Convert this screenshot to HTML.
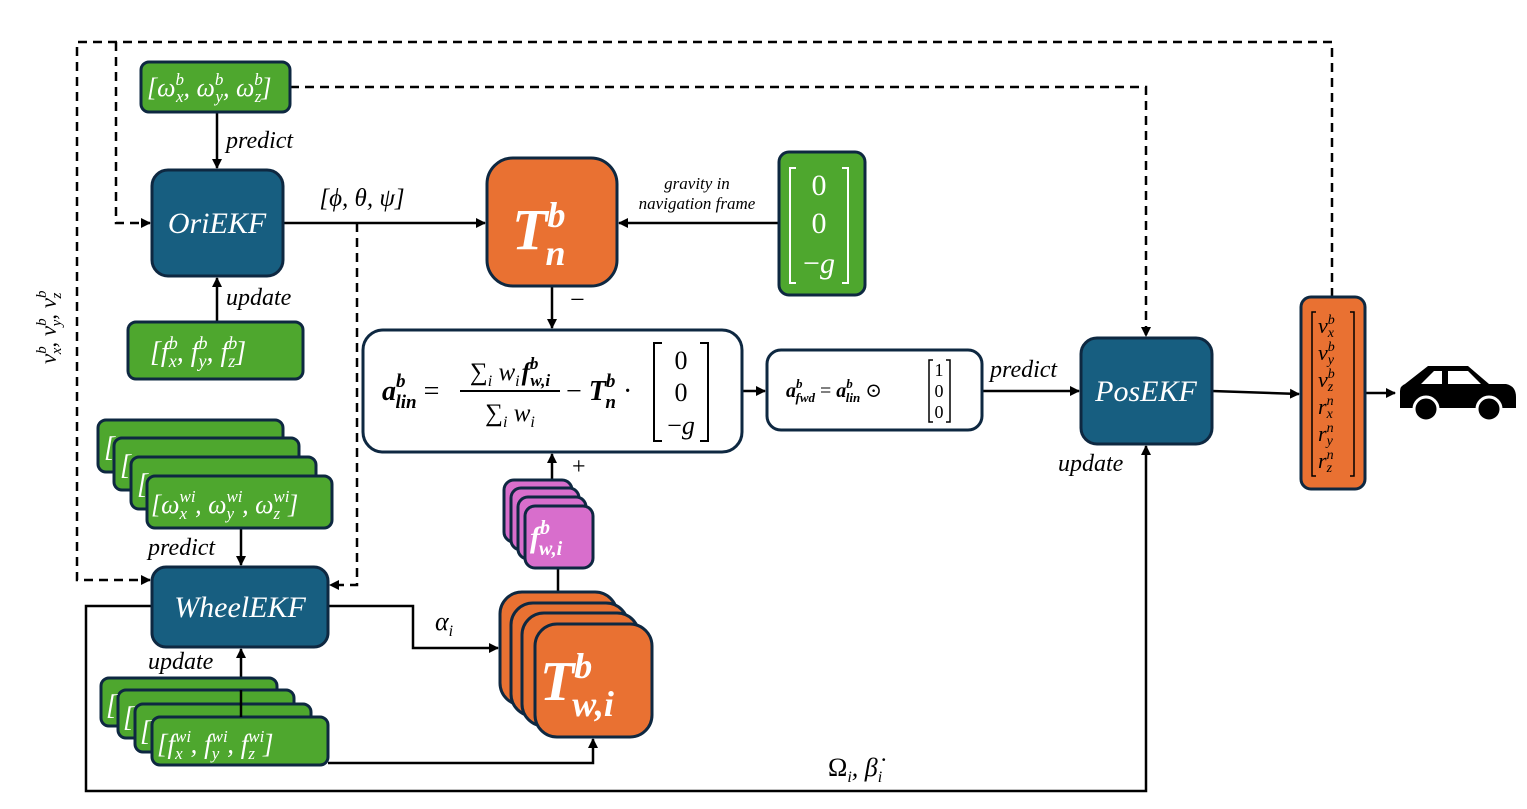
<!DOCTYPE html>
<html><head><meta charset="utf-8"><style>
html,body{margin:0;padding:0;background:#fff;width:1527px;height:809px;overflow:hidden}
svg{display:block}
text{font-family:"Liberation Serif","DejaVu Serif",serif;font-style:italic}
.n{font-style:normal}
.w{fill:#fff}
.g{fill:#4ea72e;stroke:#0e2841;stroke-width:3}
.b{fill:#175e80;stroke:#0e2841;stroke-width:3}
.o{fill:#e97132;stroke:#0e2841;stroke-width:3}
.p{fill:#d86ecc;stroke:#0e2841;stroke-width:3}
.wh{fill:#fff;stroke:#0e2841;stroke-width:3}
.l{stroke:#000;stroke-width:2.5;fill:none}
.d{stroke:#000;stroke-width:2.5;fill:none;stroke-dasharray:9,6}
</style></head><body>
<svg width="1527" height="809" viewBox="0 0 1527 809" xmlns="http://www.w3.org/2000/svg">
<defs><marker id="a" markerWidth="10" markerHeight="10" refX="9" refY="5" orient="auto" markerUnits="userSpaceOnUse"><path d="M0,0 L10,5 L0,10 z" fill="#000"/></marker></defs>

<path class="d" d="M1332,297 V42 H77 V580 H150" marker-end="url(#a)"/>
<path class="d" d="M116,42 V223 H150" marker-end="url(#a)"/>
<path class="d" d="M290,87 H1146 V336" marker-end="url(#a)"/>
<path class="d" d="M357,223 V585 H330" marker-end="url(#a)"/>
<path class="l" d="M217,112 V168" marker-end="url(#a)"/>
<path class="l" d="M217,322 V278" marker-end="url(#a)"/>
<path class="l" d="M283,223 H485" marker-end="url(#a)"/>
<path class="l" d="M779,223 H619" marker-end="url(#a)"/>
<path class="l" d="M552,286 V328" marker-end="url(#a)"/>
<path class="l" d="M552,480 V454" marker-end="url(#a)"/>
<path class="l" d="M558,592 V568"/>
<path class="l" d="M742,391 H765" marker-end="url(#a)"/>
<path class="l" d="M982,391 H1079" marker-end="url(#a)"/>
<path class="l" d="M1212,391 L1299,394" marker-end="url(#a)"/>
<path class="l" d="M1365,393 H1395" marker-end="url(#a)"/>
<path class="l" d="M328,606 H413 V648 H498" marker-end="url(#a)"/>
<path class="l" d="M328,763 H593 V739" marker-end="url(#a)"/>
<path class="l" d="M241,717 V649" marker-end="url(#a)"/>
<path class="l" d="M241,528 V565" marker-end="url(#a)"/>
<path class="l" d="M152,606 H86 V791 H1146 V446" marker-end="url(#a)"/>

<rect class="g" x="141" y="62" width="149" height="50" rx="8"/>
<text x="147" y="96" class="w" font-size="26">[ω<tspan font-size="17" dy="-11">b</tspan><tspan font-size="17" dx="-8" dy="17">x</tspan><tspan dy="-6">, ω</tspan><tspan font-size="17" dy="-11">b</tspan><tspan font-size="17" dx="-8" dy="17">y</tspan><tspan dy="-6">, ω</tspan><tspan font-size="17" dy="-11">b</tspan><tspan font-size="17" dx="-8" dy="17">z</tspan><tspan dy="-6">]</tspan></text>
<text x="226" y="148" font-size="24">predict</text>

<rect class="b" x="152" y="170" width="131" height="106" rx="16"/>
<text x="217" y="233" class="w" font-size="30" text-anchor="middle">OriEKF</text>
<text x="226" y="305" font-size="24">update</text>

<rect class="g" x="128" y="322" width="175" height="57" rx="8"/>
<text x="150" y="361" class="w" font-size="28">[f<tspan font-size="18" dy="-12">b</tspan><tspan font-size="18" dx="-9" dy="18">x</tspan><tspan dy="-6">, f</tspan><tspan font-size="18" dy="-12">b</tspan><tspan font-size="18" dx="-9" dy="18">y</tspan><tspan dy="-6">, f</tspan><tspan font-size="18" dy="-12">b</tspan><tspan font-size="18" dx="-9" dy="18">z</tspan><tspan dy="-6">]</tspan></text>

<text x="362" y="206" font-size="25" text-anchor="middle">[ϕ, θ, ψ]</text>

<rect class="o" x="487" y="158" width="130" height="128" rx="26"/>
<text x="512" y="249" class="w" font-size="58" font-weight="bold">T<tspan font-size="36" dy="-22">b</tspan><tspan font-size="36" dx="-20" dy="38">n</tspan></text>
<text x="697" y="189" font-size="17" text-anchor="middle">gravity in</text>
<text x="697" y="209" font-size="17" text-anchor="middle">navigation frame</text>
<text x="570" y="308" font-size="26" class="n">−</text>

<rect class="g" x="779" y="152" width="86" height="143" rx="10"/>
<path d="M796,168 h-6 v115 h6 M842,168 h6 v115 h-6" stroke="#fff" stroke-width="2" fill="none"/>
<text x="819" y="195" class="w n" font-size="30" text-anchor="middle">0</text>
<text x="819" y="233" class="w n" font-size="30" text-anchor="middle">0</text>
<text x="819" y="273" class="w" font-size="30" text-anchor="middle"><tspan class="n">−</tspan>g</text>

<rect class="wh" x="363" y="330" width="379" height="122" rx="20"/>
<text x="382" y="400" font-size="28" font-weight="bold">a<tspan font-size="19" dy="-13">b</tspan><tspan font-size="19" dx="-10" dy="21">lin</tspan><tspan dy="-8" font-weight="normal" class="n"> =</tspan></text>
<text x="510" y="380" font-size="25" text-anchor="middle"><tspan class="n">∑</tspan><tspan font-size="16" dy="6">i</tspan><tspan dy="-6"> w</tspan><tspan font-size="16" dy="6">i</tspan><tspan dy="-6" dx="2" font-weight="bold">f</tspan><tspan font-size="17" font-weight="bold" dy="-11">b</tspan><tspan font-size="17" font-weight="bold" dx="-8" dy="17">w,i</tspan></text>
<line x1="460" y1="391" x2="560" y2="391" stroke="#000" stroke-width="2"/>
<text x="510" y="421" font-size="25" text-anchor="middle"><tspan class="n">∑</tspan><tspan font-size="16" dy="6">i</tspan><tspan dy="-6"> w</tspan><tspan font-size="16" dy="6">i</tspan></text>
<text x="566" y="400" font-size="28"><tspan class="n">−</tspan><tspan font-weight="bold"> T</tspan><tspan font-size="19" font-weight="bold" dy="-13">b</tspan><tspan font-size="19" font-weight="bold" dx="-10" dy="21">n</tspan><tspan dy="-8" class="n">  ·</tspan></text>
<path d="M662,343 h-8 v98 h8 M700,343 h8 v98 h-8" stroke="#000" stroke-width="2" fill="none"/>
<text x="681" y="369" font-size="26" class="n" text-anchor="middle">0</text>
<text x="681" y="401" font-size="26" class="n" text-anchor="middle">0</text>
<text x="681" y="434" font-size="26" text-anchor="middle"><tspan class="n">−</tspan>g</text>

<rect class="wh" x="767" y="350" width="215" height="80" rx="14"/>
<text x="786" y="397" font-size="20" font-weight="bold">a<tspan font-size="13" dy="-9">b</tspan><tspan font-size="13" dx="-7" dy="14">fwd</tspan><tspan dy="-5" font-weight="normal" class="n"> = </tspan>a<tspan font-size="13" dy="-9">b</tspan><tspan font-size="13" dx="-7" dy="14">lin</tspan><tspan dy="-5" font-weight="normal" class="n"> ⊙</tspan></text>
<path d="M933,360 h-4 v62 h4 M946,360 h4 v62 h-4" stroke="#000" stroke-width="1.5" fill="none"/>
<text x="939" y="376" font-size="18" class="n" text-anchor="middle">1</text>
<text x="939" y="397" font-size="18" class="n" text-anchor="middle">0</text>
<text x="939" y="418" font-size="18" class="n" text-anchor="middle">0</text>
<text x="990" y="377" font-size="24">predict</text>

<rect class="b" x="1081" y="338" width="131" height="106" rx="16"/>
<text x="1146" y="401" class="w" font-size="30" text-anchor="middle">PosEKF</text>
<text x="1058" y="471" font-size="24">update</text>

<rect class="o" x="1301" y="297" width="64" height="192" rx="10"/>
<path d="M1316,312 h-4 v164 h4 M1350,312 h4 v164 h-4" stroke="#000" stroke-width="1.5" fill="none"/>
<g font-size="22">
<text x="1318" y="333">v<tspan font-size="14" dy="-9">b</tspan><tspan font-size="14" dx="-7" dy="13">x</tspan></text>
<text x="1318" y="360">v<tspan font-size="14" dy="-9">b</tspan><tspan font-size="14" dx="-7" dy="13">y</tspan></text>
<text x="1318" y="387">v<tspan font-size="14" dy="-9">b</tspan><tspan font-size="14" dx="-7" dy="13">z</tspan></text>
<text x="1318" y="414">r<tspan font-size="14" dy="-9">n</tspan><tspan font-size="14" dx="-7" dy="13">x</tspan></text>
<text x="1318" y="441">r<tspan font-size="14" dy="-9">n</tspan><tspan font-size="14" dx="-7" dy="13">y</tspan></text>
<text x="1318" y="468">r<tspan font-size="14" dy="-9">n</tspan><tspan font-size="14" dx="-7" dy="13">z</tspan></text>
</g>

<path d="M1400,391 Q1400,386 1405,384 L1428,366 H1468 L1489,384 H1506 Q1516,386 1516,397 V408 H1400 z" fill="#000"/>
<path d="M1434,371 H1442 V384 H1421 z M1448,371 H1468 L1481,384 H1448 z" fill="#fff"/>
<circle cx="1426" cy="409" r="12" fill="#000" stroke="#fff" stroke-width="3"/>
<circle cx="1489" cy="409" r="12" fill="#000" stroke="#fff" stroke-width="3"/>

<rect class="g" x="98" y="420" width="185" height="52" rx="8"/>
<rect class="g" x="114" y="438" width="185" height="52" rx="8"/>
<rect class="g" x="131" y="457" width="185" height="52" rx="8"/>
<rect class="g" x="147" y="476" width="185" height="52" rx="8"/>
<text x="104" y="456" class="w" font-size="28">[</text>
<text x="120" y="474" class="w" font-size="28">[</text>
<text x="137" y="493" class="w" font-size="28">[</text>
<text x="151" y="513" class="w" font-size="26">[ω<tspan font-size="17" dy="-11">wi</tspan><tspan font-size="17" dx="-16" dy="17">x</tspan><tspan dy="-6" dx="8">, ω</tspan><tspan font-size="17" dy="-11">wi</tspan><tspan font-size="17" dx="-16" dy="17">y</tspan><tspan dy="-6" dx="8">, ω</tspan><tspan font-size="17" dy="-11">wi</tspan><tspan font-size="17" dx="-16" dy="17">z</tspan><tspan dy="-6" dx="8">]</tspan></text>
<text x="148" y="555" font-size="24">predict</text>

<rect class="b" x="152" y="567" width="176" height="80" rx="14"/>
<text x="240" y="617" class="w" font-size="30" text-anchor="middle">WheelEKF</text>
<text x="148" y="669" font-size="24">update</text>
<text x="435" y="630" font-size="26">α<tspan font-size="16" dy="6">i</tspan></text>

<rect class="g" x="101" y="678" width="176" height="48" rx="8"/>
<rect class="g" x="118" y="690" width="176" height="48" rx="8"/>
<rect class="g" x="135" y="704" width="176" height="48" rx="8"/>
<rect class="g" x="152" y="717" width="176" height="48" rx="8"/>
<path class="l" d="M241,717 V690"/>
<text x="106" y="714" class="w" font-size="28">[</text>
<text x="123" y="726" class="w" font-size="28">[</text>
<text x="140" y="740" class="w" font-size="28">[</text>
<text x="157" y="753" class="w" font-size="27">[f<tspan font-size="17" dy="-11">wi</tspan><tspan font-size="17" dx="-16" dy="17">x</tspan><tspan dy="-6" dx="8">, f</tspan><tspan font-size="17" dy="-11">wi</tspan><tspan font-size="17" dx="-16" dy="17">y</tspan><tspan dy="-6" dx="8">, f</tspan><tspan font-size="17" dy="-11">wi</tspan><tspan font-size="17" dx="-16" dy="17">z</tspan><tspan dy="-6" dx="8">]</tspan></text>

<rect class="p" x="504" y="480" width="68" height="62" rx="10"/>
<rect class="p" x="511" y="488" width="68" height="62" rx="10"/>
<rect class="p" x="518" y="497" width="68" height="62" rx="10"/>
<rect class="p" x="525" y="506" width="68" height="62" rx="10"/>
<text x="530" y="547" class="w" font-size="30" font-weight="bold">f<tspan font-size="20" dy="-13">b</tspan><tspan font-size="20" dx="-11" dy="21">w,i</tspan></text>
<text x="572" y="474" font-size="24" class="n">+</text>

<rect class="o" x="500" y="592" width="117" height="113" rx="22"/>
<rect class="o" x="511" y="603" width="117" height="113" rx="22"/>
<rect class="o" x="522" y="613" width="117" height="113" rx="22"/>
<rect class="o" x="535" y="624" width="117" height="113" rx="22"/>
<text x="540" y="700" class="w" font-size="56" font-weight="bold">T<tspan font-size="36" dy="-22">b</tspan><tspan font-size="36" dx="-20" dy="38">w,i</tspan></text>

<text x="828" y="776" font-size="26"><tspan class="n">Ω</tspan><tspan font-size="16" dy="6">i</tspan><tspan dy="-6">, β̇</tspan><tspan font-size="16" dy="6">i</tspan></text>

<text transform="translate(56,364) rotate(-90)" font-size="23">v<tspan font-size="15" dy="-10">b</tspan><tspan font-size="15" dx="-8" dy="15">x</tspan><tspan dy="-5">, v</tspan><tspan font-size="15" dy="-10">b</tspan><tspan font-size="15" dx="-8" dy="15">y</tspan><tspan dy="-5">, v</tspan><tspan font-size="15" dy="-10">b</tspan><tspan font-size="15" dx="-8" dy="15">z</tspan></text>
</svg>
</body></html>
